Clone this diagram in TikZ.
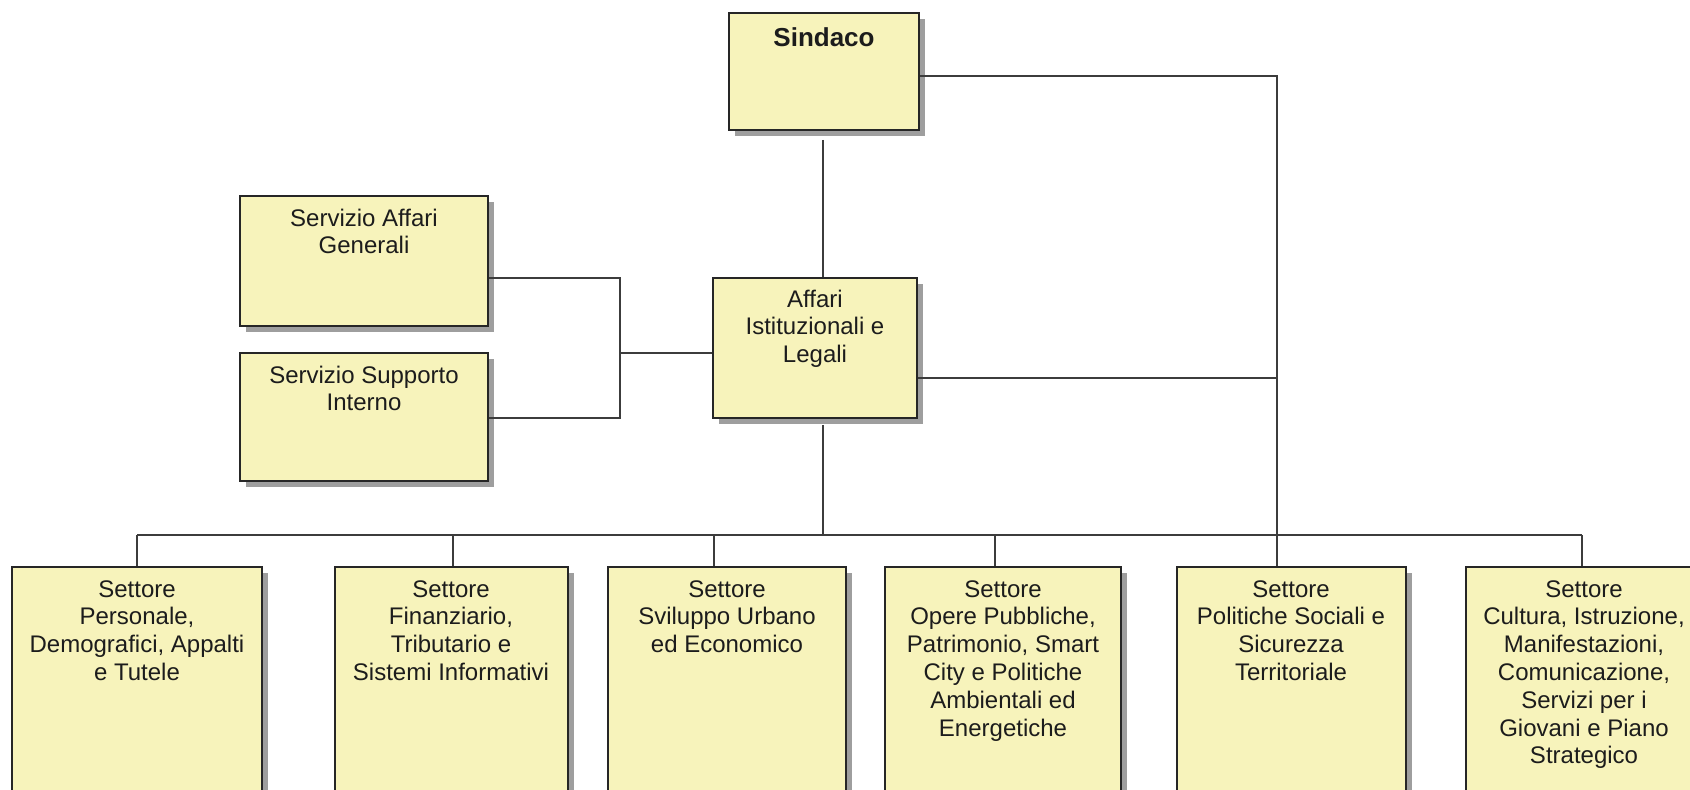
\documentclass[tikz,border=0pt]{standalone}
\usepackage{fontspec}
\setmainfont{Liberation Sans}
\usetikzlibrary{fit,shadows}
\definecolor{boxfill}{HTML}{F7F3BB}
\definecolor{boxline}{HTML}{262626}
\definecolor{connline}{HTML}{3C3C3C}
\definecolor{txtcol}{HTML}{1C1C1C}
\tikzset{
  box/.style={rectangle, draw=boxline, line width=1.2pt, fill=boxfill, inner sep=0pt,
    drop shadow={shadow xshift=3pt, shadow yshift=-3pt, fill=black!38, opacity=1}},
  txt/.style={align=center, anchor=north, inner sep=0pt, text=txtcol,
    font=\fontsize{12}{13.9}\selectfont},
  ttl/.style={txt, font=\fontsize{13}{15}\selectfont\bfseries},
  conn/.style={draw=connline, line width=0.9pt}
}
\begin{document}
\begin{tikzpicture}[x=0.5pt,y=-0.5pt]
\useasboundingbox (0,0) rectangle (1690,790);
\clip (0,0) rectangle (1690,790);
% boxes
\node[box, fit={(729,13) (919,130)}] (sind) {};
\node[box, fit={(713,278) (917,418)}] (aff) {};
\node[box, fit={(240,196) (488,326)}] (sag) {};
\node[box, fit={(240,353) (488,481)}] (ssi) {};
\node[box, fit={(12,567) (262,820)}] (s1) {};
\node[box, fit={(335,567) (568,820)}] (s2) {};
\node[box, fit={(608,567) (846,820)}] (s3) {};
\node[box, fit={(885,567) (1121,820)}] (s4) {};
\node[box, fit={(1177,567) (1406,820)}] (s5) {};
\node[box, fit={(1466,567) (1702,820)}] (s6) {};
% texts (north = first baseline minus cap height)
\node[ttl] (sind-t) at ([yshift=-7.8pt]sind.north) {Sindaco};
\node[txt] (aff-t) at ([yshift=-6.3pt]aff.north) {Affari\\Istituzionali e\\Legali};
\node[txt] (sag-t) at ([yshift=-6.8pt]sag.north) {Servizio Affari\\Generali};
\node[txt] (ssi-t) at ([yshift=-6.8pt]ssi.north) {Servizio Supporto\\Interno};
\node[txt] (s1-t) at (137,580) {Settore\\Personale,\\Demografici, Appalti\\e Tutele};
\node[txt] (s2-t) at (451,580) {Settore\\Finanziario,\\Tributario e\\Sistemi Informativi};
\node[txt] (s3-t) at (727,580) {Settore\\Sviluppo Urbano\\ed Economico};
\node[txt] (s4-t) at (1003,580) {Settore\\Opere Pubbliche,\\Patrimonio, Smart\\City e Politiche\\Ambientali ed\\Energetiche};
\node[txt] (s5-t) at (1291,580) {Settore\\Politiche Sociali e\\Sicurezza\\Territoriale};
\node[txt] (s6-t) at (1584,580) {Settore\\Cultura, Istruzione,\\Manifestazioni,\\Comunicazione,\\Servizi per i\\Giovani e Piano\\Strategico};
% junction coordinates
\coordinate (jr) at (1277,76);
\coordinate (jaff) at (1277,378);
\coordinate (jl) at (620,353);
\coordinate (bc) at (823,535);
\coordinate (bl) at (137,535);
\coordinate (b2) at (453,535);
\coordinate (b3) at (714,535);
\coordinate (b4) at (995,535);
\coordinate (b5) at (1277,535);
\coordinate (b6) at (1582,535);
% connectors
\draw[conn] (823,140) -- (aff.north -| bc);
\draw[conn] (sind.east |- jr) -- (jr) -- (s5.north -| jr);
\draw[conn] (aff.east |- jaff) -- (jaff);
\draw[conn] (sag.east |- 0,278) -| (jl) |- (ssi.east |- 0,418);
\draw[conn] (jl) -- (aff.west |- jl);
\draw[conn] (823,425) -- (bc);
\draw[conn] (bl) -- (b6);
\draw[conn] (bl) -- (s1.north -| bl);
\draw[conn] (b2) -- (s2.north -| b2);
\draw[conn] (b3) -- (s3.north -| b3);
\draw[conn] (b4) -- (s4.north -| b4);
\draw[conn] (b6) -- (s6.north -| b6);
\end{tikzpicture}
\end{document}
